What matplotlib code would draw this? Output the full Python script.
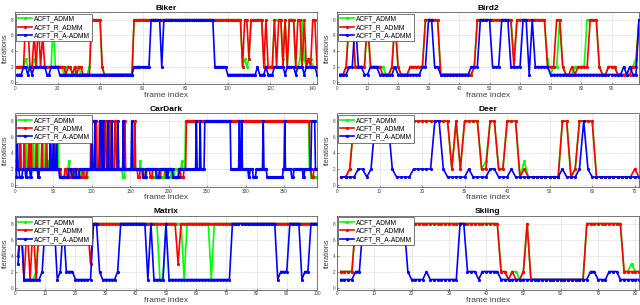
import numpy as np
import matplotlib
matplotlib.use('Agg')
import matplotlib.pyplot as plt

plt.rcParams['font.family'] = ['Liberation Sans', 'DejaVu Sans']

# each series is stored as (frame, value) change points: the value holds until the next point
labels = ['ACFT_ADMM', 'ACFT_R_ADMM', 'ACFT_R_A-ADMM']
colors = ['#00ff00', '#ff0000', '#0000ff']

# Biker, 142 frames
biker_n = 142
biker_green = [(1, 2), (5, 3), (6, 2), (9, 3), (10, 2), (18, 8), (19, 2), (23, 1), (24, 2), (27, 1),
               (29, 2), (31, 1), (35, 2), (36, 8), (41, 2), (42, 1), (56, 8), (107, 2), (108, 3),
               (109, 2), (110, 3), (111, 8), (117, 3), (118, 2), (122, 8), (126, 3), (127, 8),
               (128, 2), (129, 8), (132, 2), (134, 3), (135, 8), (136, 3), (137, 2), (138, 3), (140, 2)]
biker_red = [(1, 2), (5, 8), (7, 2), (9, 6), (10, 2), (11, 8), (12, 2), (13, 6), (14, 2), (24, 1),
             (25, 2), (27, 1), (28, 2), (29, 1), (30, 2), (32, 1), (36, 8), (41, 2), (42, 1), (56, 8),
             (107, 2), (108, 8), (110, 3), (111, 8), (117, 2), (118, 8), (119, 2), (122, 8), (123, 2),
             (124, 8), (126, 2), (127, 8), (128, 2), (129, 8), (132, 2), (133, 8), (135, 2), (136, 8),
             (137, 2), (138, 3), (139, 2), (140, 8), (142, 2)]
biker_blue = [(1, 1), (4, 2), (6, 1), (7, 2), (8, 1), (9, 2), (15, 1), (17, 2), (21, 1), (56, 2),
              (64, 8), (69, 2), (70, 8), (94, 2), (100, 1), (114, 2), (115, 1), (118, 2), (119, 1),
              (122, 2), (127, 1), (128, 2), (132, 1), (133, 2), (136, 1), (137, 2), (142, 1)]

# Bird2, 99 frames
bird2_n = 99
bird2_green = [(1, 1), (3, 2), (4, 8), (6, 2), (10, 8), (11, 2), (16, 1), (18, 2), (19, 8), (20, 2),
               (21, 1), (24, 2), (29, 8), (34, 1), (45, 2), (46, 8), (58, 3), (59, 8), (69, 3),
               (70, 1), (71, 2), (73, 8), (74, 2), (75, 1), (78, 2), (82, 8), (86, 2), (87, 1),
               (89, 2), (92, 1), (96, 2), (98, 3), (99, 8)]
bird2_red = [(1, 1), (3, 2), (4, 8), (6, 2), (10, 8), (11, 2), (15, 1), (18, 2), (19, 8), (20, 2),
             (21, 1), (24, 2), (29, 8), (34, 1), (45, 2), (46, 8), (58, 2), (59, 8), (69, 2),
             (72, 8), (74, 2), (75, 1), (77, 2), (78, 1), (79, 2), (83, 8), (86, 2), (87, 1),
             (89, 2), (92, 1), (97, 2), (99, 8)]
bird2_blue = [(1, 1), (4, 2), (6, 8), (7, 2), (9, 1), (11, 2), (14, 1), (19, 2), (20, 1), (28, 2),
              (30, 8), (32, 2), (34, 1), (44, 2), (47, 8), (51, 2), (54, 8), (57, 2), (61, 8),
              (63, 1), (64, 8), (65, 2), (70, 1), (94, 2), (95, 1), (96, 2), (97, 1), (99, 8)]

# CarDark, 393 frames
cardark_n = 393
cardark_green = [(1, 3), (3, 2), (7, 8), (8, 2), (14, 8), (15, 2), (17, 3), (18, 2), (24, 8), (25, 2),
                 (28, 3), (29, 2), (30, 8), (31, 2), (37, 8), (38, 2), (43, 3), (44, 2), (56, 8),
                 (57, 2), (60, 1), (66, 2), (70, 3), (71, 2), (74, 1), (78, 2), (82, 1), (86, 2),
                 (92, 1), (95, 2), (100, 8), (105, 2), (117, 8), (119, 2), (122, 8), (125, 2),
                 (130, 8), (134, 3), (135, 2), (140, 1), (143, 2), (154, 8), (155, 2), (163, 3),
                 (164, 2), (168, 1), (172, 2), (180, 1), (184, 2), (190, 1), (195, 2), (203, 1),
                 (208, 2), (217, 3), (218, 2), (222, 8), (383, 2), (385, 1)]
cardark_red = [(1, 2), (7, 8), (8, 2), (12, 6), (13, 2), (18, 8), (19, 2), (21, 8), (22, 2), (28, 8),
               (29, 2), (35, 6), (36, 2), (41, 8), (42, 2), (46, 8), (47, 2), (51, 6), (52, 2),
               (60, 1), (65, 2), (68, 1), (72, 2), (76, 1), (80, 2), (84, 1), (88, 2), (90, 1),
               (94, 2), (99, 8), (107, 2), (110, 8), (112, 2), (117, 8), (119, 2), (123, 8),
               (124, 2), (130, 8), (132, 2), (143, 8), (144, 2), (156, 8), (157, 2), (160, 1),
               (163, 2), (166, 1), (170, 2), (176, 1), (179, 2), (185, 1), (190, 2), (196, 1),
               (199, 2), (205, 1), (213, 2), (216, 1), (220, 2), (223, 8), (384, 2), (386, 1), (389, 2)]
cardark_blue = [(1, 1), (3, 8), (4, 2), (6, 1), (10, 2), (14, 1), (16, 2), (20, 1), (22, 2), (30, 1),
                (32, 2), (46, 8), (47, 2), (50, 8), (51, 2), (54, 8), (55, 2), (58, 1), (70, 2),
                (74, 1), (77, 2), (80, 1), (84, 2), (100, 8), (101, 2), (104, 8), (105, 2), (111, 8),
                (113, 2), (115, 8), (116, 2), (121, 8), (122, 2), (126, 8), (127, 2), (134, 8),
                (135, 2), (141, 8), (142, 2), (152, 8), (153, 2), (167, 1), (171, 2), (184, 1),
                (188, 2), (198, 1), (200, 2), (206, 1), (214, 2), (236, 8), (237, 2), (241, 8),
                (242, 2), (247, 8), (281, 2), (292, 8), (293, 2), (295, 8), (296, 2), (304, 1),
                (306, 2), (310, 1), (314, 2), (323, 8), (324, 2), (328, 1), (349, 2), (351, 8),
                (352, 2), (360, 1), (363, 2), (375, 1), (377, 2), (386, 8), (391, 2)]

# Deer, 71 frames
deer_n = 71
deer_green = [(1, 1), (3, 2), (4, 8), (27, 2), (28, 8), (29, 2), (30, 8), (34, 2), (35, 3), (36, 8),
              (38, 2), (40, 8), (43, 1), (44, 3), (45, 1), (53, 8), (55, 1), (56, 2), (57, 8), (61, 1)]
deer_red = [(1, 1), (3, 2), (4, 8), (27, 2), (28, 8), (29, 2), (30, 8), (34, 2), (36, 8), (38, 2),
            (40, 8), (43, 1), (44, 2), (45, 1), (53, 8), (55, 1), (56, 2), (57, 8), (61, 1),
            (70, 2), (71, 1)]
deer_blue = [(1, 1), (5, 2), (7, 1), (8, 2), (9, 8), (13, 2), (14, 1), (18, 2), (23, 8), (25, 2),
             (26, 1), (31, 2), (32, 1), (36, 2), (38, 1), (41, 2), (42, 1), (53, 2), (54, 1),
             (57, 2), (58, 8), (59, 2), (60, 1)]

# Matrix, 100 frames
matrix_n = 100
matrix_green = [(1, 4), (2, 8), (3, 1), (7, 2), (8, 8), (48, 1), (50, 8), (56, 1), (57, 8),
                (65, 1), (66, 8)]
matrix_red = [(1, 4), (2, 8), (3, 1), (4, 8), (5, 1), (6, 8), (7, 1), (8, 8), (25, 3), (26, 8),
              (54, 3), (55, 8)]
matrix_blue = [(1, 3), (2, 8), (3, 1), (9, 2), (10, 8), (14, 1), (15, 2), (16, 8), (17, 2), (20, 1),
               (26, 8), (28, 2), (29, 1), (34, 2), (35, 8), (44, 1), (45, 8), (46, 1), (50, 8),
               (51, 1), (72, 8), (87, 1), (88, 2), (91, 8), (95, 1), (96, 2), (98, 8)]

# Skiing, 81 frames
skiing_n = 81
skiing_green = [(1, 2), (5, 8), (44, 2), (46, 1), (47, 2), (49, 1), (50, 2), (51, 8), (52, 1),
                (67, 8), (77, 2), (79, 3), (80, 2)]
skiing_red = [(1, 2), (5, 8), (44, 2), (46, 1), (47, 2), (48, 1), (50, 2), (51, 8), (52, 1),
              (67, 8), (77, 2)]
skiing_blue = [(1, 1), (5, 2), (7, 8), (19, 2), (20, 1), (24, 2), (25, 1), (33, 8), (35, 2),
               (38, 1), (39, 2), (44, 1), (68, 2), (70, 1), (73, 2), (76, 1)]


def expand(points, n):
    vals = np.zeros(n)
    for i, (f, v) in enumerate(points):
        end = points[i + 1][0] if i + 1 < len(points) else n + 1
        vals[f - 1:end - 1] = v
    return vals


panels = [
    ('Biker', biker_n, 20, [biker_green, biker_red, biker_blue]),
    ('Bird2', bird2_n, 10, [bird2_green, bird2_red, bird2_blue]),
    ('CarDark', cardark_n, 50, [cardark_green, cardark_red, cardark_blue]),
    ('Deer', deer_n, 10, [deer_green, deer_red, deer_blue]),
    ('Matrix', matrix_n, 10, [matrix_green, matrix_red, matrix_blue]),
    ('Skiing', skiing_n, 10, [skiing_green, skiing_red, skiing_blue]),
]

fig = plt.figure(figsize=(6.4, 3.05), dpi=100)
W, H = 640.0, 305.0
lefts = [15, 337]
rows = [(12.3, 84.3), (113.5, 187), (216, 289.5)]

for k, (name, n, step, series) in enumerate(panels):
    r, c = divmod(k, 2)
    top, bot = rows[r]
    ax = fig.add_axes([lefts[c] / W, 1 - bot / H, 302 / W, (bot - top) / H])
    frames = np.arange(1, n + 1)
    for pts, col, lab in zip(series, colors, labels):
        ax.plot(frames, expand(pts, n), color=col, lw=1.2, marker='o', ms=2.3,
                mew=0, label=lab)
    ax.set_xlim(0, n)
    ax.set_ylim(-0.25, 8.95)
    ax.set_xticks(np.arange(0, n + 1, step))
    ax.set_yticks([0, 2, 4, 6, 8])
    ax.grid(True, color='#e3e3e3', lw=0.5)
    ax.set_axisbelow(True)
    ax.tick_params(direction='in', length=1.5, width=0.4, labelsize=3.3, pad=1.2,
                   colors='#404040')
    for s in ax.spines.values():
        s.set_linewidth(0.5)
        s.set_color('#404040')
    ax.set_title(name, fontsize=6, fontweight='bold', pad=2)
    ax.set_xlabel('frame index', fontsize=6, color='#404040', labelpad=0.5)
    ax.set_ylabel('iterations', fontsize=5.3, color='#404040', labelpad=1.5)
    leg = ax.legend(loc='upper left', fontsize=4.8, borderaxespad=0.2, labelspacing=0.2,
                    borderpad=0.3, handlelength=2.0, handletextpad=0.4, fancybox=False,
                    framealpha=1, edgecolor='#404040')
    leg.get_frame().set_linewidth(0.5)

fig.savefig('out.png', dpi=100)
